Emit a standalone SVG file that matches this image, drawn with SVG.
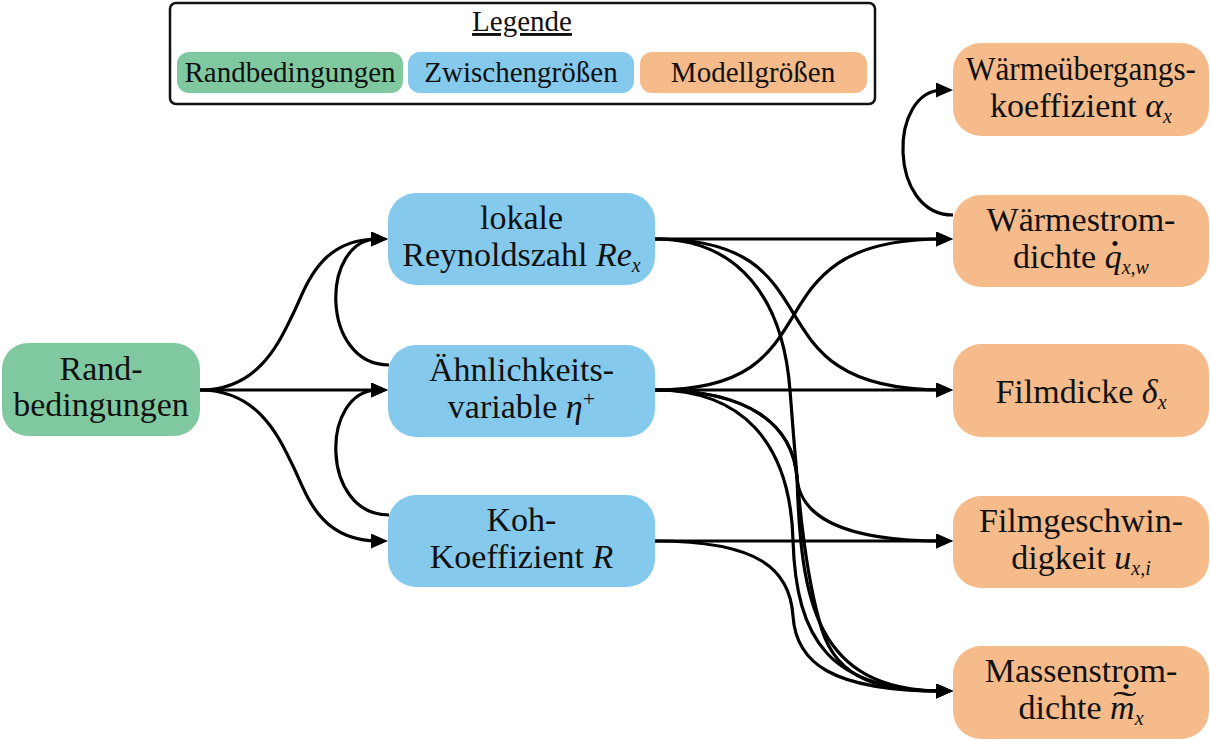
<svg xmlns="http://www.w3.org/2000/svg" width="1210" height="740" viewBox="0 0 1210 740">
<defs>
<style>
.t{font-family:"Liberation Serif","Times New Roman",serif;font-size:34px;fill:#111;text-anchor:middle}
.lg{font-family:"Liberation Serif","Times New Roman",serif;font-size:29px;fill:#111;text-anchor:middle}
.i{font-style:italic}
.sub{font-style:italic;font-size:20px}
.sup{font-size:22px}
.g{fill:#80c9a0}
.b{fill:#85caec}
.o{fill:#f5bb8a}
.c{fill:none;stroke:#000;stroke-width:3.2;marker-end:url(#ah)}
</style>
<marker id="ah" markerUnits="userSpaceOnUse" markerWidth="18" markerHeight="16" refX="7" refY="7.5" orient="auto">
<path d="M0,0 L17,7.5 L0,15 Z" fill="#000"/>
</marker>
</defs>
<rect width="1210" height="740" fill="#fff"/>

<g id="legend">
<rect x="170" y="3" width="705" height="101" rx="6" fill="#fff" stroke="#111" stroke-width="2.5"/>
<text class="lg" x="522" y="31" text-decoration="underline">Legende</text>
<rect class="g" x="177" y="52" width="226" height="41" rx="12"/>
<text class="lg" x="290" y="82">Randbedingungen</text>
<rect class="b" x="408" y="52" width="226" height="41" rx="12"/>
<text class="lg" x="521" y="82">Zwischengrößen</text>
<rect class="o" x="640" y="52" width="227" height="41" rx="12"/>
<text class="lg" x="753" y="82">Modellgrößen</text>
</g>

<g id="rand">
<rect class="g" x="2" y="343" width="198" height="93" rx="26"/>
<text class="t" x="101" y="380">Rand-</text>
<text class="t" x="101" y="416">bedingungen</text>
</g>

<g id="reynolds">
<rect class="b" x="388" y="193" width="267" height="92" rx="28"/>
<text class="t" x="521.5" y="229">lokale</text>
<text class="t" x="521.5" y="266">Reynoldszahl <tspan class="i">Re</tspan><tspan class="sub" dy="6">x</tspan></text>
</g>

<g id="aehnlich">
<rect class="b" x="388" y="345" width="267" height="92" rx="28"/>
<text class="t" x="521.5" y="381">Ähnlichkeits-</text>
<text class="t" x="521.5" y="418">variable <tspan class="i">η</tspan><tspan class="sup" dy="-12">+</tspan></text>
</g>

<g id="koh">
<rect class="b" x="388" y="495" width="267" height="92" rx="28"/>
<text class="t" x="521.5" y="531">Koh-</text>
<text class="t" x="521.5" y="568">Koeffizient <tspan class="i">R</tspan></text>
</g>

<g id="waermeuebergang">
<rect class="o" x="953" y="43" width="256" height="93" rx="28"/>
<text class="t" x="1081" y="80" textLength="230" lengthAdjust="spacingAndGlyphs">Wärmeübergangs-</text>
<text class="t" x="1081" y="117">koeffizient <tspan class="i">α</tspan><tspan class="sub" dy="6">x</tspan></text>
</g>

<g id="waermestrom">
<rect class="o" x="953" y="195" width="256" height="92" rx="28"/>
<text class="t" x="1081" y="231">Wärmestrom-</text>
<text class="t" x="1081" y="268">dichte <tspan class="i">q</tspan><tspan class="sub" dy="6">x,w</tspan></text>
<text class="t" x="1115" y="264" style="font-weight:bold">˙</text>
</g>

<g id="filmdicke">
<rect class="o" x="953" y="344" width="256" height="93" rx="28"/>
<text class="t" x="1081" y="403">Filmdicke <tspan class="i">δ</tspan><tspan class="sub" dy="6">x</tspan></text>
</g>

<g id="filmgeschwindigkeit">
<rect class="o" x="953" y="496" width="256" height="92" rx="28"/>
<text class="t" x="1081" y="532">Filmgeschwin-</text>
<text class="t" x="1081" y="569">digkeit <tspan class="i">u</tspan><tspan class="sub" dy="6">x,i</tspan></text>
</g>

<g id="massenstrom">
<rect class="o" x="953" y="646" width="256" height="93" rx="28"/>
<text class="t" x="1081" y="682">Massenstrom-</text>
<text class="t" x="1081" y="719">dichte <tspan class="i">m</tspan><tspan class="sub" dy="6">x</tspan></text>
<text class="t" x="0" y="0" transform="translate(1125,715) scale(2.1,1)">˜</text>
<text class="t" x="1126" y="707" style="font-weight:bold">˙</text>
</g>

<g id="connectors">
<path class="c" d="M200,390 H378"/>
<path class="c" d="M200,390 C260,390 280,340 293,314 C306,288 318,239 378,239"/>
<path class="c" d="M200,390 C260,390 280,440 293,466 C306,492 318,541 378,541"/>
<path class="c" d="M389,365 C320,365 320,239 378,239"/>
<path class="c" d="M389,515 C320,515 320,390 378,390"/>
<path class="c" d="M655,239 H943"/>
<path class="c" d="M655,390 H943"/>
<path class="c" d="M655,541 H943"/>
<path class="c" d="M655,239 C845,239 740,390 943,390"/>
<path class="c" d="M655,390 C845,390 740,239 943,239"/>
<path class="c" d="M655,239 C740,239 783,300 790,390 C797,480 803,570 822,630 C838,680 880,691 943,691"/>
<path class="c" d="M655,390 C750,390 793,425 797,478 C800,515 840,541 943,541"/>
<path class="c" d="M655,390 C750,390 793,425 797,478 C801,600 815,691 943,691"/>
<path class="c" d="M655,390 C740,390 790,440 793,540 C796,640 830,691 943,691"/>
<path class="c" d="M655,541 C760,541 790,570 793,616 C796,662 830,691 943,691"/>
<path class="c" d="M953,215 C888,215 888,90 943,90"/>
</g>
</svg>
